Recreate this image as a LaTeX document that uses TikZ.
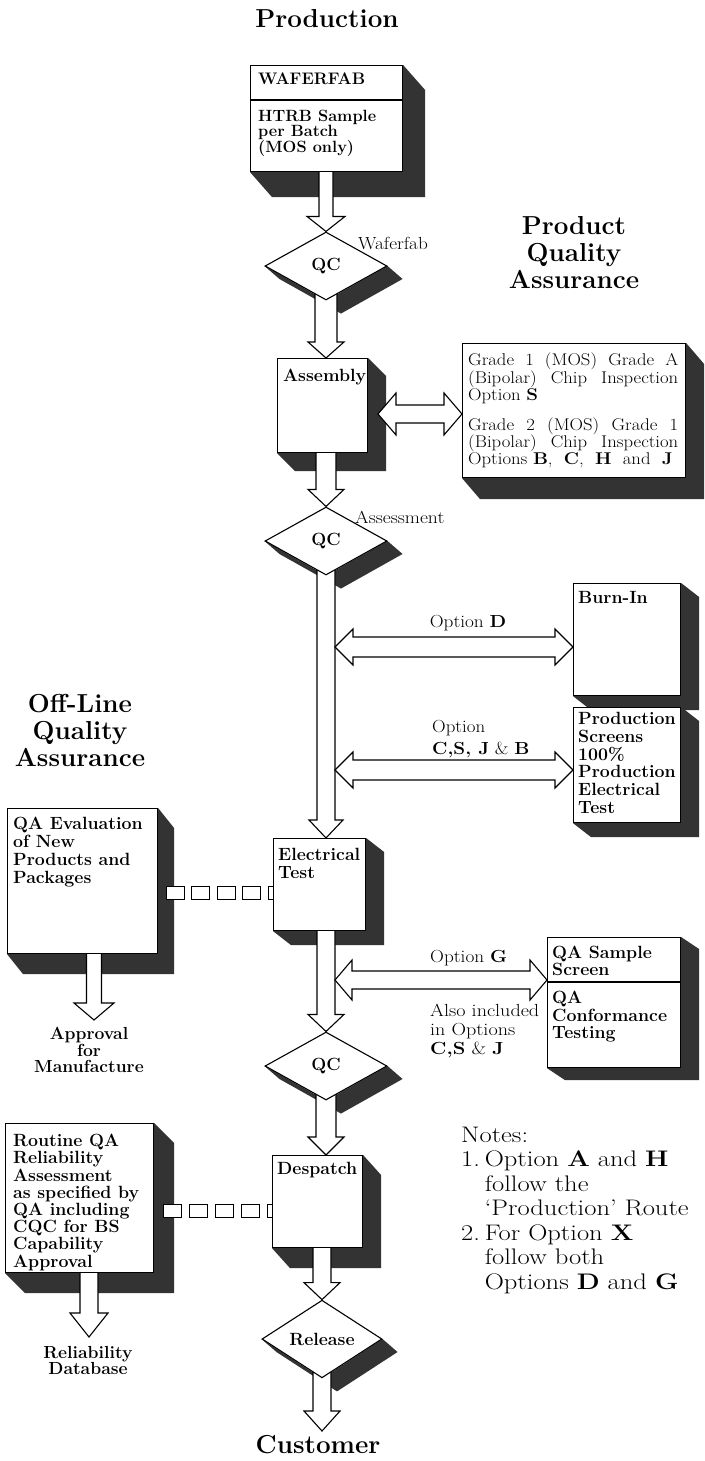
\documentclass[tikz,border=0pt]{standalone}
\usepackage{fontspec}
\usepackage{graphicx}
\usetikzlibrary{calc,shapes.geometric}
\pgfdeclarelayer{bg}
\pgfdeclarelayer{shade}
\pgfdeclarelayer{conn}
\pgfsetlayers{bg,shade,conn,main}

% vertical fat arrow: start, tip, shaft half width, head half width, head length
\newcommand\vfat[5]{%
 \begin{pgfonlayer}{conn}
 \draw[fat] let \p1=(#1), \p2=(#2) in
 (\x2-#3pt,\y1) -- (\x2-#3pt,\y2+#5pt) -- (\x2-#4pt,\y2+#5pt) -- (\x2,\y2)
 -- (\x2+#4pt,\y2+#5pt) -- (\x2+#3pt,\y2+#5pt) -- (\x2+#3pt,\y1);
 \end{pgfonlayer}}
% horizontal double fat arrow: left tip, right tip, shaft half, head half, head length
\newcommand\hfat[5]{%
 \begin{pgfonlayer}{conn}
 \draw[fat] let \p1=(#1), \p2=(#2) in
 (\x1,\y1) -- (\x1+#5pt,\y1+#4pt) -- (\x1+#5pt,\y1+#3pt) -- (\x2-#5pt,\y1+#3pt)
 -- (\x2-#5pt,\y1+#4pt) -- (\x2,\y1) -- (\x2-#5pt,\y1-#4pt) -- (\x2-#5pt,\y1-#3pt)
 -- (\x1+#5pt,\y1-#3pt) -- (\x1+#5pt,\y1-#4pt) -- cycle;
 \end{pgfonlayer}}
\newcommand\bshade[3]{\begin{pgfonlayer}{shade}\fill[shd] (#1.south west) -- ++(#2,#3)
 -- ($(#1.south east)+(#2,#3)$) -- ($(#1.north east)+(#2,#3)$) -- (#1.north east) -- cycle;\end{pgfonlayer}}
\newcommand\dshade[3]{\begin{pgfonlayer}{shade}\fill[shd] (#1.west) -- ++(#2,#3)
 -- ($(#1.south)+(#2,#3)$) -- ($(#1.east)+(#2,#3)$) -- (#1.east) -- (#1.south) -- cycle;\end{pgfonlayer}}
% horizontally widened block of left-aligned lines
\newcommand\widelines[2]{\scalebox{#1}[1]{\begin{tabular}{@{}l@{}}#2\end{tabular}}}

\tikzset{
 blk/.style={draw=black, fill=white, line width=1.1pt, inner sep=0pt, anchor=north west},
 shd/.style={fill=black!80},
 fat/.style={draw=black, fill=white, line width=1.1pt, line join=miter},
 sq/.style={draw=black, fill=white, line width=1pt},
 bt/.style={font=\fontsize{17.7}{17.5}\selectfont\bfseries, align=left, anchor=north west, inner sep=0pt},
 lbl/.style={font=\fontsize{17.5}{19}\selectfont, inner sep=0pt},
 ttl/.style={font=\fontsize{26}{27}\selectfont\bfseries, align=center, inner sep=0pt},
 dia/.style={diamond, draw=black, fill=white, line width=1.1pt, minimum width=122pt,
   minimum height=68pt, inner sep=0pt, font=\fontsize{17.7}{17}\selectfont\bfseries},
}

\begin{document}
\begin{tikzpicture}[x=1pt,y=-1pt]
\useasboundingbox (0,0) rectangle (704,1461);
\begin{pgfonlayer}{bg}\fill[white] (0,0) rectangle (704,1461);\end{pgfonlayer}

% titles
\node[ttl] (tprod) at (327,19) {Production};
\node[ttl] (tpqa) at (574,253) {Product\\Quality\\Assurance};
\node[ttl] (toff) at (80,730) {Off-Line\\Quality\\Assurance};

% boxes
\node[blk, minimum width=152pt, minimum height=106pt] (waf) at (250,65) {};
\node[blk, minimum width=90pt, minimum height=94pt] (asm) at (277,358) {};
\node[blk, minimum width=223pt, minimum height=134pt] (grade) at (462,343) {};
\node[blk, minimum width=107pt, minimum height=112pt] (burn) at (573,583) {};
\node[blk, minimum width=107pt, minimum height=115pt] (prods) at (573,707) {};
\node[blk, minimum width=150pt, minimum height=145pt] (qaeval) at (7,808) {};
\node[blk, minimum width=92pt, minimum height=92pt] (elec) at (273,838) {};
\node[blk, minimum width=133pt, minimum height=130pt] (qas) at (547,937) {};
\node[blk, minimum width=148pt, minimum height=149pt] (routine) at (5,1123) {};
\node[blk, minimum width=90pt, minimum height=92pt] (desp) at (272,1155) {};

% diamonds
\node[dia] (d1) at (326,266) {QC};
\node[dia] (d2) at (326,541) {QC};
\node[dia] (d3) at (326,1066) {QC};
\node[dia, minimum width=120pt] (rel) at (322,1339) {Release};

% shadows
\bshade{waf}{22}{25}
\bshade{asm}{18}{18}
\bshade{grade}{18}{21}
\bshade{burn}{18}{14}
\bshade{prods}{18}{14}
\bshade{qaeval}{16}{20}
\bshade{elec}{18}{14}
\bshade{qas}{18}{12}
\bshade{routine}{20}{20}
\bshade{desp}{18}{20}
\dshade{d1}{15}{13}
\dshade{d2}{15}{13}
\dshade{d3}{15}{13}
\dshade{rel}{15}{13}

% dividers
\draw[line width=1.1pt] (waf.west |- 0,100) -- (waf.east |- 0,100);
\draw[line width=1.1pt] (qas.west |- 0,982) -- (qas.east |- 0,982);

% named coordinates for connector ends
\coordinate (d1out) at ($(d1.south)+(0,-15)$);
\coordinate (d2out) at ($(d2.south)+(0,-15)$);
\coordinate (d3out) at ($(d3.south)+(0,-15)$);
\coordinate (relout) at ($(rel.south)+(0,-15)$);
\coordinate (cust) at (322,1431);
\coordinate (appr) at (94,1020);
\coordinate (reldbtip) at (89,1337);
\coordinate (optDl) at (335,647);
\coordinate (optCl) at (335,770);
\coordinate (optGl) at (335,980);
\coordinate (asml) at (378,414);
\coordinate (c1) at (166,893);
\coordinate (c2) at (163,1211);

% main column arrows
\vfat{d1.north |- waf.south}{d1.north}{7}{19}{15}
\vfat{d1out}{d1.south |- asm.north}{11}{18}{16}
\vfat{d2.north |- asm.south}{d2.north}{10}{18}{17}
\vfat{d2out}{d2.south |- elec.north}{9}{17}{18}
\vfat{d3.north |- elec.south}{d3.north}{9}{18}{17}
\vfat{d3out}{d3.south |- desp.north}{10}{18}{18}
\vfat{rel.north |- desp.south}{rel.north}{9}{18}{17}
\vfat{relout}{cust}{9}{18}{20}
% side arrows
\vfat{appr |- qaeval.south}{appr}{7.5}{20}{17}
\vfat{reldbtip |- routine.south}{reldbtip}{9}{19}{24}
% double arrows
\hfat{asml}{grade.west |- asml}{9}{21}{18}
\hfat{optDl}{burn.west |- optDl}{10}{18}{18}
\hfat{optCl}{prods.west |- optCl}{10}{18}{18}
\hfat{optGl}{qas.west |- optGl}{9}{20}{17}

% square chains
\begin{pgfonlayer}{conn}
\foreach \i in {0,...,4} \draw[sq] ($(c1)+(\i*25.5,-6.5)$) rectangle ++(18,13);
\foreach \i in {0,...,4} \draw[sq] ($(c2)+(\i*26,-6.5)$) rectangle ++(18,13);
\end{pgfonlayer}

% box texts
\node[bt, font=\fontsize{16.7}{15}\selectfont\bfseries] (waft) at (258,73) {WAFERFAB};
\node[bt, font=\fontsize{16.3}{15}\selectfont\bfseries] (waft2) at (258,110) {HTRB Sample\\per Batch\\(MOS only)};
\node[bt] (asmt) at (283,369) {Assembly};
\node[anchor=north west, inner sep=0pt, font=\fontsize{17}{15.8}\selectfont] (gradet) at (468,353) {%
\widelines{1.1}{%
\makebox[191pt][s]{Grade 1 (MOS) Grade A}\\
\makebox[191pt][s]{(Bipolar) Chip Inspection}\\
Option \textbf{S}\\[13pt]
\makebox[191pt][s]{Grade 2 (MOS) Grade 1}\\
\makebox[191pt][s]{(Bipolar) Chip Inspection}\\
Options \textbf{B},\ \ \textbf{C},\ \ \textbf{H}\ \ and\ \ \textbf{J}}};
\node[bt] (burnt) at (578,591) {Burn-In};
\node[bt, font=\fontsize{17.7}{17.8}\selectfont\bfseries] (prodst) at (578,712) {Production\\Screens\\100\%\\Production\\Electrical\\Test};
\node[bt, font=\fontsize{17.7}{18}\selectfont\bfseries] (qaevalt) at (13,817) {QA Evaluation\\of New\\Products and\\Packages};
\node[bt, font=\fontsize{17.7}{18.5}\selectfont\bfseries] (elect) at (278,848) {Electrical\\Test};
\node[bt, font=\fontsize{17.7}{15.5}\selectfont\bfseries] (qast1) at (552,946) {QA Sample\\Screen};
\node[bt, font=\fontsize{17.7}{17.5}\selectfont\bfseries] (qast2) at (552,991) {QA\\Conformance\\Testing};
\node[bt, font=\fontsize{17.7}{17.2}\selectfont\bfseries] (routinet) at (13,1134) {Routine QA\\Reliability\\Assessment\\as specified by\\QA including\\CQC for BS\\Capability\\Approval};
\node[bt] (despt) at (277,1162) {Despatch};

% outside texts
\node[bt, anchor=center, align=center, font=\fontsize{17.5}{16.5}\selectfont\bfseries] (apprt) at (89,1050) {Approval\\for\\Manufacture};
\node[bt, anchor=center, align=center, font=\fontsize{17.5}{16}\selectfont\bfseries] (reldbt) at (88,1360) {Reliability\\Database};
\node[ttl] (custt) at (318,1445) {Customer};

% labels
\node[lbl, anchor=west] (lwf) at (358,243) {\scalebox{1.1}[1]{Waferfab}};
\node[lbl, anchor=west] (las) at (355,517) {\scalebox{1.12}[1]{Assessment}};
\node[lbl] (lD) at (468,623) {\scalebox{1.1}[1]{Option \textbf{D}}};
\node[lbl, anchor=north west, font=\fontsize{17.5}{22}\selectfont] (lC) at (432,717) {\widelines{1.08}{Option\\\textbf{C,S, J} \& \textbf{B}}};
\node[lbl, anchor=west] (lG) at (430,958) {\scalebox{1.1}[1]{Option \textbf{G}}};
\node[lbl, anchor=north west, font=\fontsize{17.5}{19}\selectfont] (lAl) at (430,1003) {\widelines{1.15}{Also included\\in Options\\\textbf{C,S} \& \textbf{J}}};

% notes
\node[anchor=north west, inner sep=0pt, font=\fontsize{22.5}{24.5}\selectfont] (notes) at (461,1125) {%
\widelines{1.18}{Notes:\\
\makebox[20pt][l]{1.}Option \textbf{A} and \textbf{H}\\
\hspace*{20pt}follow the\\
\hspace*{20pt}`Production' Route\\
\makebox[20pt][l]{2.}For Option \textbf{X}\\
\hspace*{20pt}follow both\\
\hspace*{20pt}Options \textbf{D} and \textbf{G}}};
\end{tikzpicture}
\end{document}
